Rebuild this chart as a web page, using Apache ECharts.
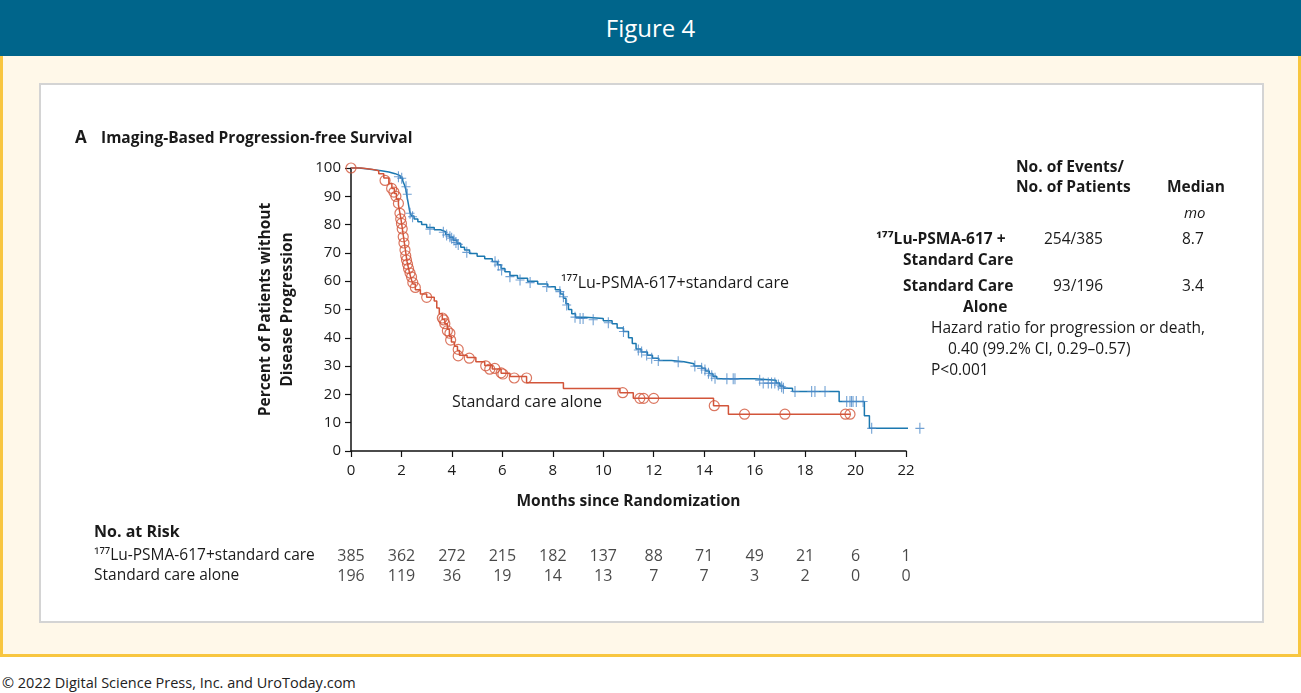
<!DOCTYPE html>
<html>
<head>
<meta charset="utf-8">
<script src="https://cdn.jsdelivr.net/npm/echarts@6/dist/echarts.min.js"></script>
<style>
  body { margin: 0; width: 1301px; height: 693px; background: #fff; font-family: 'Open Sans', sans-serif; overflow: hidden; }
  .header { position: absolute; left: 0; top: 0; width: 1301px; height: 56px; background: #00658b; color: #fff; font-size: 24px; text-align: center; line-height: 56px; }
  .cream { position: absolute; left: 0; top: 56px; width: 1295px; height: 598px; background: #fff8e9; border: 3px solid #f8c640; border-top: none; }
  .panel { position: absolute; left: 39px; top: 83px; width: 1221px; height: 536px; background: #fff; border: 2px solid #d4d4d4; }
  .footer { position: absolute; left: 2px; top: 673px; font-size: 14.5px; color: #222; }
  #chart { position: absolute; left: 0; top: 0; width: 1301px; height: 693px; }
</style>
</head>
<body>
<div class="header">Figure 4</div>
<div class="cream"></div>
<div class="panel"></div>
<div class="footer">© 2022 Digital Science Press, Inc. and UroToday.com</div>
<div id="chart"></div>
<script>
// Kaplan-Meier curves: [month, percent]
const luCurve = [
  [0, 100], [0.3, 99.7], [0.6, 99.4], [0.9, 99.0], [1.2, 98.6], [1.5, 98.0], [1.75, 97.3], [1.95, 96.5],
  [2.05, 95.5], [2.12, 94.0], [2.17, 92.5], [2.21, 90.5], [2.25, 88.5], [2.29, 86.5], [2.33, 84.5],
  [2.4, 83.0], [2.5, 82.0], [2.65, 81.0], [2.8, 80.0], [3.0, 79.0], [3.3, 78.2], [3.55, 77.5],
  [3.75, 76.5], [3.9, 75.5], [4.05, 74.5], [4.2, 73.3], [4.35, 72.0], [4.5, 71.0], [4.7, 69.8],
  [5.0, 68.8], [5.3, 67.9], [5.6, 67.0], [5.8, 65.8], [5.95, 64.5], [6.1, 63.3], [6.3, 62.0],
  [6.6, 61.0], [7.0, 60.0], [7.4, 59.0], [7.8, 58.0], [8.1, 57.0], [8.3, 55.5], [8.42, 54.0],
  [8.52, 52.0], [8.62, 50.0], [8.75, 48.5], [8.9, 47.3], [9.3, 46.8], [10.0, 46.0], [10.35, 45.0],
  [10.55, 43.5], [10.8, 42.2], [11.0, 40.0], [11.15, 38.0], [11.3, 36.0], [11.5, 35.0], [11.75, 33.8],
  [11.95, 32.8], [12.2, 32.0], [12.7, 31.5], [13.2, 30.8], [13.6, 30.0], [13.9, 29.2], [14.05, 28.3],
  [14.2, 27.3], [14.35, 26.3], [14.5, 25.5], [16.0, 25.0], [16.85, 24.0], [17.0, 23.0], [17.15, 22.2],
  [17.5, 21.0], [19.35, 17.5], [20.35, 12.5], [20.55, 8.0], [22.55, 8.0]
]
const luCensored = [
  [1.88, 96.9], [2.01, 96.4], [2.18, 93.4], [2.23, 90.7], [2.34, 84.0], [2.44, 82.8], [3.13, 78.4],
  [3.66, 77.3], [3.79, 76.3], [3.92, 75.7], [3.99, 75.2], [4.08, 74.6], [4.16, 73.7], [4.25, 73.0],
  [4.59, 70.2], [5.71, 66.9], [5.84, 65.7], [5.97, 64.0], [6.3, 61.6], [6.7, 60.4], [7.1, 59.5],
  [7.76, 58.1], [8.28, 56.3], [8.42, 54.5], [8.55, 51.6], [8.88, 47.3], [9.08, 46.8], [9.2, 46.8],
  [9.6, 46.4], [10.2, 45.3], [10.8, 42.2], [11.39, 35.7], [11.52, 35.0], [11.72, 33.9], [11.92, 32.8],
  [12.18, 32.0], [12.97, 31.5], [13.63, 30.0], [13.9, 29.2], [14.03, 28.6], [14.17, 27.5], [14.3, 26.6],
  [14.43, 25.7], [14.9, 25.5], [15.15, 25.5], [15.22, 25.5], [16.2, 25.0], [16.34, 24.0], [16.54, 24.0],
  [16.67, 24.0], [16.8, 24.0], [16.94, 23.3], [17.07, 22.7], [17.14, 22.2], [17.6, 21.0], [18.26, 21.0],
  [18.39, 21.0], [18.79, 21.0], [19.65, 17.5], [19.78, 17.5], [19.84, 17.5], [19.9, 17.5], [20.03, 17.5],
  [20.3, 17.5], [20.64, 8.0], [22.55, 8.0]
]
const stdCurve = [
  [0, 100], [0.4, 99.6], [0.8, 99.0], [1.1, 98.0], [1.3, 96.5], [1.5, 94.5], [1.62, 92.8], [1.72, 91.0],
  [1.8, 89.0], [1.88, 87.0], [1.93, 84.5], [1.98, 82.0], [2.02, 79.5], [2.06, 77.0], [2.1, 74.5],
  [2.14, 72.0], [2.18, 69.5], [2.22, 67.0], [2.27, 65.0], [2.32, 63.0], [2.38, 61.0], [2.45, 59.0],
  [2.55, 57.0], [2.75, 55.5], [3.0, 54.3], [3.3, 53.0], [3.4, 50.5], [3.5, 48.5], [3.62, 46.5],
  [3.72, 45.0], [3.82, 43.0], [3.9, 40.5], [3.98, 38.5], [4.1, 37.0], [4.22, 35.5], [4.3, 33.8],
  [4.6, 33.0], [4.95, 31.5], [5.3, 30.2], [5.6, 29.0], [5.95, 27.5], [6.3, 26.3], [6.96, 24.1],
  [8.42, 22.1], [10.66, 20.6], [11.19, 18.6], [14.37, 16.0], [14.96, 13.0], [19.8, 13.0]
]
const stdCensored = [
  [0, 100], [1.35, 95.6], [1.61, 92.8], [1.7, 91.5], [1.78, 90.0], [1.88, 87.5], [1.94, 84.0],
  [1.97, 82.0], [2.0, 80.4], [2.03, 78.5], [2.07, 75.7], [2.1, 73.5], [2.14, 71.0], [2.17, 69.0],
  [2.2, 67.5], [2.24, 66.0], [2.28, 64.5], [2.34, 62.9], [2.4, 61.5], [2.45, 59.5], [2.55, 57.8],
  [3.0, 54.3], [3.62, 47.0], [3.68, 46.3], [3.72, 45.0], [3.82, 42.5], [3.92, 41.6], [3.95, 39.2],
  [4.25, 35.9], [4.25, 33.6], [4.69, 32.8], [5.34, 30.1], [5.5, 28.9], [5.7, 29.2], [5.95, 27.6],
  [6.02, 27.2], [6.47, 25.8], [6.96, 25.8], [10.77, 20.6], [11.45, 18.6], [11.6, 18.6], [12.0, 18.6],
  [14.4, 16.0], [15.6, 13.0], [17.2, 13.0], [19.6, 13.0], [19.78, 13.0]
]

// number at risk table
const riskMonths = [0, 2, 4, 6, 8, 10, 12, 14, 16, 18, 20, 22]
const riskRows = ['¹⁷⁷Lu-PSMA-617+standard care', 'Standard care alone']
const riskLu = [385, 362, 272, 215, 182, 137, 88, 71, 49, 21, 6, 1]
const riskStd = [196, 119, 36, 19, 14, 13, 7, 7, 3, 2, 0, 0]

const xTicks = { min: 0, max: 22, interval: 2 }
const yTicks = { min: 0, max: 100, interval: 10 }

const blue = '#1b78b0'
const blueMark = '#4b88c8'
const red = '#d2553a'
const ink = '#1a1a1a'
const font = "'Open Sans', sans-serif"

const chart = echarts.init(document.getElementById('chart'))

const txt = (left, top, text, extra) => ({
  type: 'text', left, top,
  style: Object.assign({ text, fill: ink, fontFamily: font, fontSize: 15.5 }, extra)
})

const riskData = []
riskMonths.forEach((m, i) => {
  riskData.push([m, 0, riskLu[i]])
  riskData.push([m, 1, riskStd[i]])
})

const option = {
  animation: false,
  textStyle: { fontFamily: font },
  grid: [
    { left: 351, top: 168, width: 555, height: 283 },
    { left: 351, top: 546, width: 555, height: 40 }
  ],
  xAxis: [{
    type: 'value', min: xTicks.min, max: xTicks.max, interval: xTicks.interval,
    axisLine: { lineStyle: { color: '#111', width: 1.5 } },
    axisTick: { length: 6, lineStyle: { color: '#111', width: 1.2 } },
    axisLabel: { color: ink, fontSize: 15, margin: 12 },
    splitLine: { show: false },
    name: 'Months since Randomization', nameLocation: 'middle', nameGap: 43,
    nameTextStyle: { color: ink, fontSize: 15.5, fontWeight: 'bold' }
  }, {
    gridIndex: 1, type: 'value', min: xTicks.min, max: xTicks.max, show: false
  }],
  yAxis: [{
    type: 'value', min: yTicks.min, max: yTicks.max, interval: yTicks.interval,
    axisLine: { show: true, lineStyle: { color: '#111', width: 1.5 } },
    axisTick: { show: true, length: 6, lineStyle: { color: '#111', width: 1.2 } },
    axisLabel: { color: ink, fontSize: 15, margin: 10 },
    splitLine: { show: false },
    name: 'Percent of Patients without\nDisease Progression', nameLocation: 'middle', nameGap: 52,
    nameTextStyle: { color: ink, fontSize: 15.5, fontWeight: 'bold', lineHeight: 22 }
  }, {
    gridIndex: 1, type: 'category', data: riskRows, inverse: true,
    axisLine: { show: false }, axisTick: { show: false },
    axisLabel: { align: 'left', margin: 257, color: ink, fontSize: 15.5, interval: 0, hideOverlap: false }
  }],
  series: [
    {
      name: 'Lu line', type: 'line', step: 'end', data: luCurve, showSymbol: false, clip: false,
      lineStyle: { color: blue, width: 1.5 }, z: 3
    },
    {
      name: 'Lu censored', type: 'scatter', data: luCensored, clip: false,
      symbol: 'path://M4.4,0H5.6V12H4.4ZM0,5.4H10V6.6H0Z', symbolSize: [9, 11],
      itemStyle: { color: blueMark }, z: 4
    },
    {
      name: 'Std line', type: 'line', step: 'end', data: stdCurve, showSymbol: false, clip: false,
      lineStyle: { color: red, width: 1.5 }, z: 3
    },
    {
      name: 'Std censored', type: 'scatter', data: stdCensored, clip: false,
      symbol: 'circle', symbolSize: 10,
      itemStyle: { color: 'rgba(0,0,0,0)', borderColor: red, borderWidth: 1.2 }, z: 4
    },
    {
      name: 'At risk', type: 'scatter', xAxisIndex: 1, yAxisIndex: 1, data: riskData,
      symbolSize: 0, silent: true,
      label: { show: true, position: 'inside', color: ink, fontSize: 16, formatter: p => p.data[2] }
    }
  ],
  graphic: [
    txt(75, 130, 'A', { fontSize: 17, fontWeight: 'bold' }),
    txt(101, 131, 'Imaging-Based Progression-free Survival', { fontWeight: 'bold' }),
    txt(561, 275, '¹⁷⁷Lu-PSMA-617+standard care', { fontSize: 16 }),
    txt(452, 394, 'Standard care alone', { fontSize: 16 }),
    txt(94, 524, 'No. at Risk', { fontSize: 16, fontWeight: 'bold' }),
    // summary table on the right
    txt(1016, 160, 'No. of Events/', { fontWeight: 'bold' }),
    txt(1016, 180, 'No. of Patients', { fontWeight: 'bold' }),
    txt(1167, 180, 'Median', { fontWeight: 'bold' }),
    txt(1184, 206, 'mo', { fontSize: 15, fontStyle: 'italic' }),
    txt(876, 232, '¹⁷⁷Lu-PSMA-617 +', { fontWeight: 'bold' }),
    txt(903, 253, 'Standard Care', { fontWeight: 'bold' }),
    txt(903, 279, 'Standard Care', { fontWeight: 'bold' }),
    txt(963, 300, 'Alone', { fontWeight: 'bold' }),
    txt(1044, 232, '254/385'),
    txt(1053, 279, '93/196'),
    txt(1182, 232, '8.7'),
    txt(1182, 279, '3.4'),
    txt(931, 321, 'Hazard ratio for progression or death,'),
    txt(948, 342, '0.40 (99.2% CI, 0.29–0.57)'),
    txt(931, 363, 'P<0.001')
  ]
}

chart.setOption(option)
</script>
</body>
</html>
